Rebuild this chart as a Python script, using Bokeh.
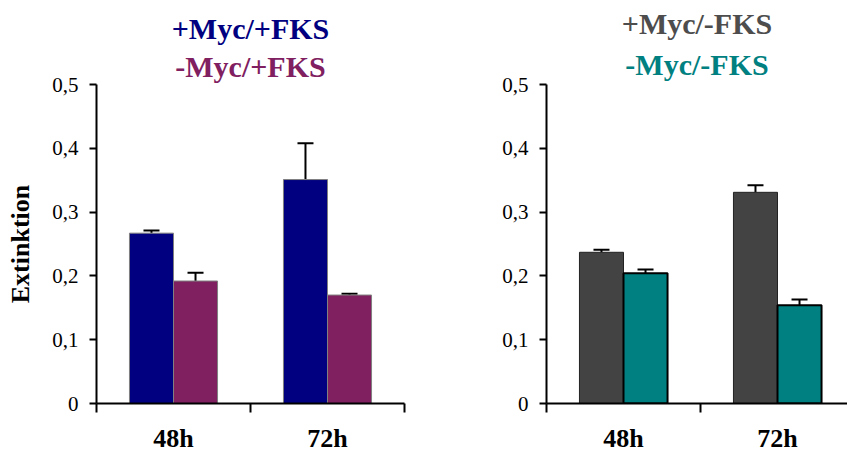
from bokeh.plotting import figure
from bokeh.models import Range1d, FixedTicker, Whisker, TeeHead, ColumnDataSource, Title
from bokeh.layouts import row
from bokeh.embed import file_html
from bokeh.resources import INLINE

# ---- data ----
categories = ["48h", "72h"]
y_ticks = [0, 0.1, 0.2, 0.3, 0.4, 0.5]
y_tick_labels = ["0", "0,1", "0,2", "0,3", "0,4", "0,5"]

left_names = ["+Myc/+FKS", "-Myc/+FKS"]
myc_pos_fks_pos = [0.267, 0.351]
myc_pos_fks_pos_err = [0.004, 0.057]
myc_neg_fks_pos = [0.192, 0.170]
myc_neg_fks_pos_err = [0.013, 0.002]

right_names = ["+Myc/-FKS", "-Myc/-FKS"]
myc_pos_fks_neg = [0.237, 0.331]
myc_pos_fks_neg_err = [0.004, 0.011]
myc_neg_fks_neg = [0.204, 0.154]
myc_neg_fks_neg_err = [0.006, 0.009]

y_label = "Extinktion"

FONT = "Liberation Serif"
BAR_W = 0.286
OFFS = [-0.143, 0.143]


def panel(names, values, errs, colors, title_colors, line_colors, line_widths,
          width, border_left, border_right, x_end, ylabel, title_offset, title_standoffs):
    p = figure(width=width, height=455, x_range=Range1d(0, x_end), y_range=Range1d(0, 0.5),
               output_backend="svg", toolbar_location=None, title=None,
               min_border_left=border_left, min_border_right=border_right,
               min_border_top=84, min_border_bottom=51)
    p.outline_line_color = None
    p.grid.visible = False
    p.background_fill_color = "white"
    p.border_fill_color = "white"

    for k in range(2):
        xs = [i + 0.5 + OFFS[k] for i in range(len(categories))]
        src = ColumnDataSource(dict(x=xs, top=values[k],
                                    hi=[v + e for v, e in zip(values[k], errs[k])]))
        p.vbar(x="x", top="top", bottom=0, width=BAR_W, source=src,
               fill_color=colors[k], line_color=line_colors[k], line_width=line_widths[k])
        p.add_layout(Whisker(base="x", lower="top", upper="hi", source=src,
                             line_color="black", line_width=2, lower_head=None,
                             upper_head=TeeHead(size=16, line_width=2, line_color="black")))

    # titles (stacked above the frame, the second line nearest to it)
    for k in [1, 0]:
        p.add_layout(Title(text=names[k], text_font=FONT, text_font_size="30px",
                           text_font_style="bold", text_color=title_colors[k],
                           align="center", offset=title_offset,
                           standoff=title_standoffs[k]), "above")

    xa = p.xaxis[0]
    xa.ticker = FixedTicker(ticks=[i + 0.5 for i in range(len(categories))],
                            minor_ticks=[i for i in range(len(categories) + 1)])
    xa.major_label_overrides = {i + 0.5: c for i, c in enumerate(categories)}
    xa.major_tick_out = 0
    xa.major_tick_in = 0
    xa.minor_tick_out = 9
    xa.minor_tick_in = 0
    xa.minor_tick_line_width = 2
    xa.minor_tick_line_color = "black"
    xa.axis_line_width = 2
    xa.axis_line_color = "black"
    xa.major_label_standoff = 11
    xa.major_label_text_font = FONT
    xa.major_label_text_font_size = "26px"
    xa.major_label_text_font_style = "bold"
    xa.major_label_text_color = "black"

    ya = p.yaxis[0]
    ya.ticker = FixedTicker(ticks=y_ticks)
    ya.major_label_overrides = {t: l for t, l in zip(y_ticks, y_tick_labels)}
    ya.major_tick_out = 7
    ya.major_tick_in = 0
    ya.major_tick_line_width = 2
    ya.minor_tick_line_color = None
    ya.axis_line_width = 2
    ya.axis_line_color = "black"
    ya.major_label_standoff = 11
    ya.major_label_text_font = FONT
    ya.major_label_text_font_size = "21px"
    ya.major_label_text_color = "black"
    if ylabel:
        ya.axis_label = ylabel
        ya.axis_label_text_font = FONT
        ya.axis_label_text_font_size = "26px"
        ya.axis_label_text_font_style = "bold"
        ya.axis_label_text_color = "black"
        ya.axis_label_standoff = 14
    return p


p1 = panel(left_names, [myc_pos_fks_pos, myc_neg_fks_pos], [myc_pos_fks_pos_err, myc_neg_fks_pos_err],
           ["#000080", "#802060"], ["#000080", "#802060"], ["#808080", "#808080"], [1, 1],
           420, 96, 16, 2.0, y_label, -5, [2, 4])
p2 = panel(right_names, [myc_pos_fks_neg, myc_neg_fks_neg], [myc_pos_fks_neg_err, myc_neg_fks_neg_err],
           ["#434343", "#008080"], ["#4d4d4d", "#008080"], ["#222222", "#000000"], [1, 2],
           427, 126, 0, 301 / 154, None, -2, [5, 7])

layout = row(p1, p2)
open("out.html", "w").write(file_html(layout, INLINE))
